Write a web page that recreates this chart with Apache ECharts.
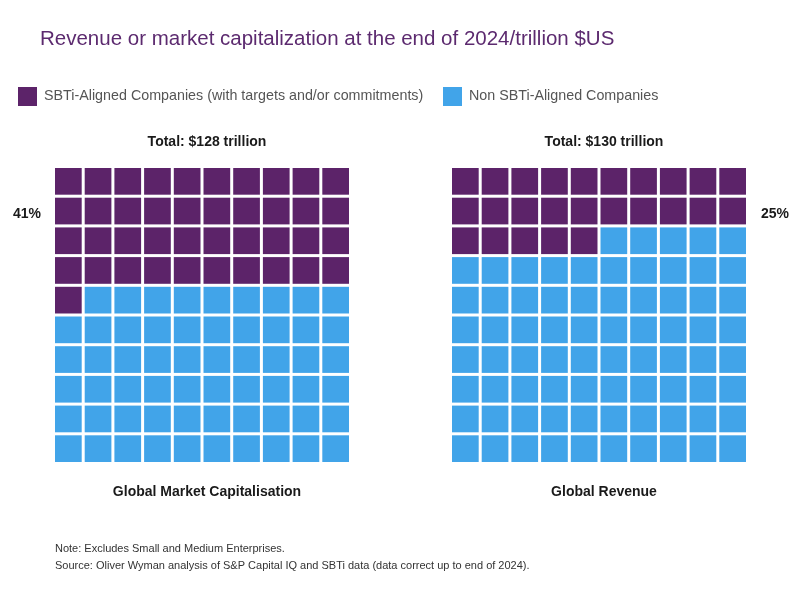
<!DOCTYPE html>
<html>
<head>
<meta charset="utf-8">
<script src="https://cdn.jsdelivr.net/npm/echarts@6/dist/echarts.min.js"></script>
<style>
  html, body { margin: 0; padding: 0; background: #fff; }
  #chart { width: 800px; height: 600px; }
</style>
</head>
<body>
<div id="chart"></div>
<script>
// data
const panels = ['Global Market Capitalisation', 'Global Revenue'];
const totals = [128, 130];          // trillion $US
const alignedPct = [41, 25];        // share of SBTi-aligned companies, %
const seriesNames = ['SBTi-Aligned Companies (with targets and/or commitments)', 'Non SBTi-Aligned Companies'];

const PURPLE = '#5c2369';
const BLUE = '#41a4e9';
const FONT = 'Liberation Sans';

// each panel is a 10x10 waffle, filled row by row from the top left
function cells(pct, aligned) {
  const out = [];
  for (let i = 0; i < 100; i++) {
    if ((i < pct) === aligned) out.push([i % 10, Math.floor(i / 10)]);
  }
  return out;
}

function renderCell(params, api) {
  const p0 = api.coord([api.value(0), api.value(1)]);
  const p1 = api.coord([api.value(0) + 1, api.value(1) + 1]);
  const gap = 3;
  return {
    type: 'rect',
    shape: {
      x: Math.min(p0[0], p1[0]),
      y: Math.min(p0[1], p1[1]),
      width: Math.abs(p1[0] - p0[0]) - gap,
      height: Math.abs(p1[1] - p0[1]) - gap
    },
    style: { fill: api.visual('color') }
  };
}

const chart = echarts.init(document.getElementById('chart'));

const grids = [
  { left: 55, top: 168, width: 297, height: 297 },
  { left: 452, top: 168, width: 297, height: 297 }
];

const series = [];
panels.forEach(function (p, k) {
  [true, false].forEach(function (aligned) {
    series.push({
      type: 'custom',
      name: aligned ? seriesNames[0] : seriesNames[1],
      xAxisIndex: k,
      yAxisIndex: k,
      itemStyle: { color: aligned ? PURPLE : BLUE },
      renderItem: renderCell,
      data: cells(alignedPct[k], aligned),
      silent: true
    });
  });
});

const labelStyle = { fontFamily: FONT, fontSize: 14, fontWeight: 'bold', color: '#1a1a1a' };
const legendText = { fontFamily: FONT, fontSize: 14.3, color: '#555', padding: [2, 0, 0, 2] };

const option = {
  animation: false,
  backgroundColor: '#fff',
  title: [
    {
      text: 'Revenue or market capitalization at the end of 2024/trillion $US',
      left: 35, top: 24,
      textStyle: { fontFamily: FONT, fontSize: 20.5, fontWeight: 'normal', color: '#5c2a6f' }
    },
    { text: 'Total: $' + totals[0] + ' trillion', left: 202, top: 130, textAlign: 'center', textStyle: labelStyle },
    { text: 'Total: $' + totals[1] + ' trillion', left: 599, top: 130, textAlign: 'center', textStyle: labelStyle },
    { text: alignedPct[0] + '%', left: 8, top: 202, textStyle: labelStyle },
    { text: alignedPct[1] + '%', left: 756, top: 202, textStyle: labelStyle },
    { text: panels[0], left: 202, top: 480, textAlign: 'center', textStyle: labelStyle },
    { text: panels[1], left: 599, top: 480, textAlign: 'center', textStyle: labelStyle },
    {
      text: 'Note: Excludes Small and Medium Enterprises.\nSource: Oliver Wyman analysis of S&P Capital IQ and SBTi data (data correct up to end of 2024).',
      left: 50, top: 535,
      textStyle: { fontFamily: FONT, fontSize: 11, fontWeight: 'normal', color: '#333', lineHeight: 17 }
    }
  ],
  legend: [
    {
      data: [seriesNames[0]], left: 13, top: 82, icon: 'rect',
      itemWidth: 19, itemHeight: 19, selectedMode: false,
      textStyle: legendText
    },
    {
      data: [seriesNames[1]], left: 438, top: 82, icon: 'rect',
      itemWidth: 19, itemHeight: 19, selectedMode: false,
      textStyle: legendText
    }
  ],
  grid: grids,
  xAxis: grids.map(function (g, k) {
    return { type: 'value', gridIndex: k, min: 0, max: 10, show: false };
  }),
  yAxis: grids.map(function (g, k) {
    return { type: 'value', gridIndex: k, min: 0, max: 10, inverse: true, show: false };
  }),
  series: series
};

chart.setOption(option);
</script>
</body>
</html>
